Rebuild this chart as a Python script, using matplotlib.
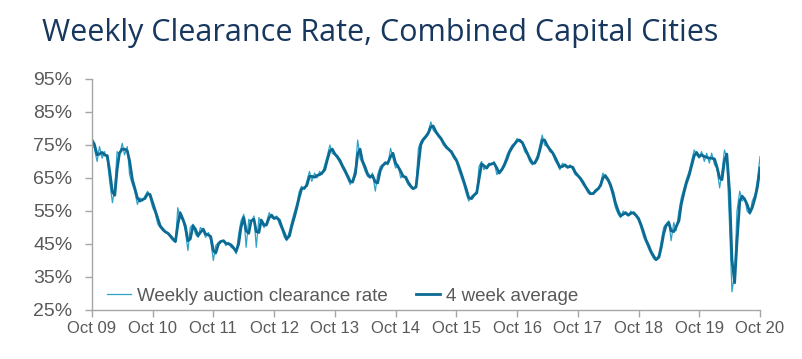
import pandas as pd
import matplotlib
matplotlib.use("Agg")
import matplotlib.pyplot as plt
from matplotlib.ticker import FixedLocator

# Weekly auction clearance rate (%), read twice a month, Oct 2009 - Oct 2020
weekly_rate = [
    76.5, 74, 70, 74.5, 71, 73, 70.5, 64, 57.5, 62, 73, 72,          # Oct09 - Mar10
    75.5, 72, 74.5, 66, 63, 61, 57, 59, 58, 59.5, 61, 59,             # Apr10 - Sep10
    56, 54.5, 51, 50, 49, 48.5, 48, 47, 46, 45.5, 56, 53,             # Oct10 - Mar11
    52, 49, 43, 50, 51, 48, 47, 50, 49, 47, 48.5, 46,                 # Apr11 - Sep11
    40, 44.5, 45.5, 46, 46, 44.5, 45.5, 44, 43.5, 42, 48, 52,         # Oct11 - Mar12
    54, 44, 52.5, 51.5, 53.5, 44, 53, 51.5, 50, 51.5, 54.5, 53,       # Apr12 - Sep12
    52.5, 53.5, 51, 49.5, 47, 46, 49, 52, 55, 57.5, 61, 62.5,         # Oct12 - Mar13
    61.5, 64, 67, 64, 66.5, 65, 67, 66, 69, 71.5, 75, 72.5,           # Apr13 - Sep13
    72, 71, 69.5, 68, 66.5, 65, 63, 64.5, 68, 76.5, 71, 69.5,         # Oct13 - Mar14
    67, 65.5, 65, 66.5, 61, 66, 68.5, 69, 70, 69, 74, 71,             # Apr14 - Sep14
    68, 69, 65, 66, 64.5, 63, 62, 61.5, 63, 74, 76, 77,               # Oct14 - Mar15
    78, 79, 82, 79.5, 78.5, 77.5, 76.5, 75, 74, 73.5, 72.5, 71,       # Apr15 - Sep15
    70, 67.5, 65, 63, 60, 58, 59.5, 60, 61, 68.5, 70, 67.5,           # Oct15 - Mar16
    68.5, 69.5, 69, 70, 66, 67, 68, 69.5, 72, 73.5, 75, 75.5,         # Apr16 - Sep16
    77, 76, 75.5, 73, 72, 70, 69, 70, 72, 75, 78, 75,                 # Oct16 - Mar17
    74.5, 73, 72.5, 70.5, 69, 67.5, 69.5, 68.5, 68, 69, 67.5, 66,     # Apr17 - Sep17
    65.5, 64.5, 63, 62, 60.5, 60, 60.5, 61.5, 62, 63.5, 66.5, 65,     # Oct17 - Mar18
    64, 62, 59, 56, 54, 53, 55, 54, 53.5, 55, 54, 53.5,               # Apr18 - Sep18
    52, 50, 47, 45.5, 43.5, 42, 40.5, 40, 42, 46, 50, 51,             # Oct18 - Mar19
    52, 46, 51.5, 49, 55, 59, 62, 64.5, 67, 70, 73.5, 72,             # Apr19 - Sep19
    71, 73, 70, 72.5, 69.5, 72.5, 69, 68, 62, 67, 73.5, 71,           # Oct19 - Mar20
    50, 30.5, 36, 55, 61, 58, 59, 55, 54, 58, 60, 64.5,               # Apr20 - Sep20
    71.5,                                                             # Oct20
]

dates = pd.date_range("2009-10-01", "2020-10-01", freq="SMS")
rates = pd.Series(weekly_rate, index=dates)
avg_4wk = rates.rolling(2, min_periods=1).mean()

year_ticks = pd.date_range("2009-10-01", "2020-10-01", freq="12MS")
tick_labels = [d.strftime("Oct %y") for d in year_ticks]
y_ticks = [25, 35, 45, 55, 65, 75, 85, 95]

plt.rcParams["font.family"] = ["Liberation Sans", "DejaVu Sans"]
fig = plt.figure(figsize=(8.02, 3.59), dpi=100)
ax = fig.add_axes([0.1147, 0.1365, 0.833, 0.6435])

ax.plot(rates.index, rates.values, color="#2EA3C7", linewidth=0.9,
        label="Weekly auction clearance rate")
ax.plot(avg_4wk.index, avg_4wk.values, color="#0C6A93", linewidth=2.0,
        label="4 week average")

ax.set_ylim(25, 95)
ax.set_xlim(year_ticks[0], year_ticks[-1])
ax.yaxis.set_major_locator(FixedLocator(y_ticks))
ax.set_yticklabels([f"{v}%" for v in y_ticks])
ax.set_xticks(year_ticks)
ax.set_xticklabels(tick_labels)

for s in ["top", "right"]:
    ax.spines[s].set_visible(False)
for s in ["left", "bottom"]:
    ax.spines[s].set_color("#A6A6A6")
    ax.spines[s].set_linewidth(1.0)
ax.tick_params(axis="both", colors="#A6A6A6", length=5, width=1.0,
               labelcolor="#595959")
ax.tick_params(axis="x", labelsize=12, pad=3)
ax.tick_params(axis="y", labelsize=14, pad=9)

leg = ax.legend(loc="lower left", ncol=2, frameon=False, fontsize=13.5,
                bbox_to_anchor=(-0.003, -0.05), handlelength=1.3,
                handletextpad=0.3, columnspacing=1.5)
for t in leg.get_texts():
    t.set_color("#595959")

fig.text(0.052, 0.887, "Weekly Clearance Rate, Combined Capital Cities",
         fontsize=22, color="#17375E", family=["Open Sans", "DejaVu Sans"],
         va="baseline")

fig.savefig("out.png", dpi=100)
